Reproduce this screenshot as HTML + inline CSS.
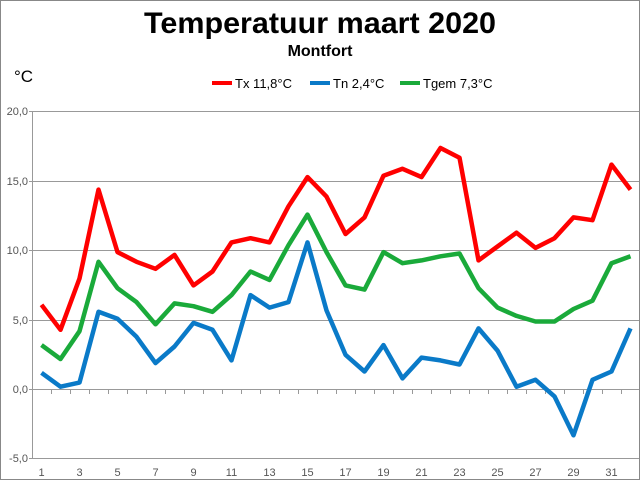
<!DOCTYPE html><html><head><meta charset="utf-8"><style>body{margin:0}svg{display:block}</style></head><body>
<svg width="640" height="480" xmlns="http://www.w3.org/2000/svg" font-family="Liberation Sans, sans-serif">
<rect x="0.5" y="0.5" width="639" height="479" fill="#fff" stroke="#888"/>
<text x="320" y="33" text-anchor="middle" font-size="30" font-weight="bold" textLength="352" lengthAdjust="spacingAndGlyphs">Temperatuur maart 2020</text>
<text x="320" y="56" text-anchor="middle" font-size="16" font-weight="bold">Montfort</text>
<text x="14" y="82" font-size="17">°C</text>
<g font-size="13"><line x1="212" y1="83" x2="232" y2="83" stroke="#f00" stroke-width="4"/><text x="235" y="88">Tx 11,8°C</text>
<line x1="310" y1="83" x2="330" y2="83" stroke="#0a7ac8" stroke-width="4"/><text x="333" y="88">Tn 2,4°C</text>
<line x1="400" y1="83" x2="420" y2="83" stroke="#1aaa3a" stroke-width="4"/><text x="423" y="88">Tgem 7,3°C</text></g>
<g stroke="#999" stroke-width="1">
<line x1="29" y1="111.5" x2="639" y2="111.5"/><line x1="29" y1="181.5" x2="639" y2="181.5"/><line x1="29" y1="250.5" x2="639" y2="250.5"/><line x1="29" y1="320.5" x2="639" y2="320.5"/><line x1="29" y1="389.5" x2="639" y2="389.5"/><line x1="29" y1="458.5" x2="639" y2="458.5"/>
<line x1="32.5" y1="111" x2="32.5" y2="459"/>
<path d="M51.5 389v5M70.5 389v5M89.5 389v5M108.5 389v5M127.5 389v5M146.5 389v5M165.5 389v5M184.5 389v5M203.5 389v5M222.5 389v5M241.5 389v5M260.5 389v5M279.5 389v5M298.5 389v5M317.5 389v5M336.5 389v5M355.5 389v5M374.5 389v5M393.5 389v5M412.5 389v5M431.5 389v5M450.5 389v5M469.5 389v5M488.5 389v5M507.5 389v5M526.5 389v5M545.5 389v5M564.5 389v5M583.5 389v5M602.5 389v5M621.5 389v5"/>
</g>
<g font-size="11" fill="#555" text-anchor="end"><text x="28" y="115">20,0</text><text x="28" y="185">15,0</text><text x="28" y="254">10,0</text><text x="28" y="324">5,0</text><text x="28" y="393">0,0</text><text x="28" y="462">-5,0</text></g>
<g font-size="11" fill="#555" text-anchor="middle"><text x="41.5" y="476">1</text><text x="79.5" y="476">3</text><text x="117.5" y="476">5</text><text x="155.5" y="476">7</text><text x="193.5" y="476">9</text><text x="231.5" y="476">11</text><text x="269.5" y="476">13</text><text x="307.5" y="476">15</text><text x="345.5" y="476">17</text><text x="383.5" y="476">19</text><text x="421.5" y="476">21</text><text x="459.5" y="476">23</text><text x="497.5" y="476">25</text><text x="535.5" y="476">27</text><text x="573.5" y="476">29</text><text x="611.5" y="476">31</text></g>
<g fill="none" stroke-width="4.5" stroke-linejoin="round">
<polyline stroke="#0a7ac8" points="41.5,372.8 60.5,386.7 79.5,382.6 98.5,311.8 117.5,318.7 136.5,336.8 155.5,363.1 174.5,346.5 193.5,322.9 212.5,329.8 231.5,360.4 250.5,295.1 269.5,307.6 288.5,302.1 307.5,242.4 326.5,310.4 345.5,354.8 364.5,371.5 383.5,345.1 402.5,378.4 421.5,357.6 440.5,360.4 459.5,364.5 478.5,328.4 497.5,350.6 516.5,386.7 535.5,379.8 554.5,396.4 573.5,435.3 592.5,379.8 611.5,371.5 630.5,328.4"/>
<polyline stroke="#1aaa3a" points="41.5,345.1 60.5,359 79.5,331.2 98.5,261.8 117.5,288.2 136.5,302.1 155.5,324.3 174.5,303.4 193.5,306.2 212.5,311.8 231.5,295.1 250.5,271.5 269.5,279.9 288.5,245.2 307.5,214.6 326.5,252.1 345.5,285.4 364.5,289.6 383.5,252.1 402.5,263.2 421.5,260.4 440.5,256.3 459.5,253.5 478.5,288.2 497.5,307.6 516.5,315.9 535.5,321.5 554.5,321.5 573.5,309 592.5,300.7 611.5,263.2 630.5,256.3"/>
<polyline stroke="#f00" points="41.5,304.8 60.5,329.8 79.5,278.5 98.5,189.6 117.5,252.1 136.5,261.8 155.5,268.8 174.5,254.9 193.5,285.4 212.5,271.5 231.5,242.4 250.5,238.2 269.5,242.4 288.5,206.3 307.5,177.1 326.5,196.6 345.5,234 364.5,217.4 383.5,175.7 402.5,168.8 421.5,177.1 440.5,148 459.5,157.7 478.5,260.4 497.5,246.5 516.5,232.7 535.5,247.9 554.5,238.2 573.5,217.4 592.5,220.2 611.5,164.6 630.5,189.6"/>
</g>
</svg></body></html>
